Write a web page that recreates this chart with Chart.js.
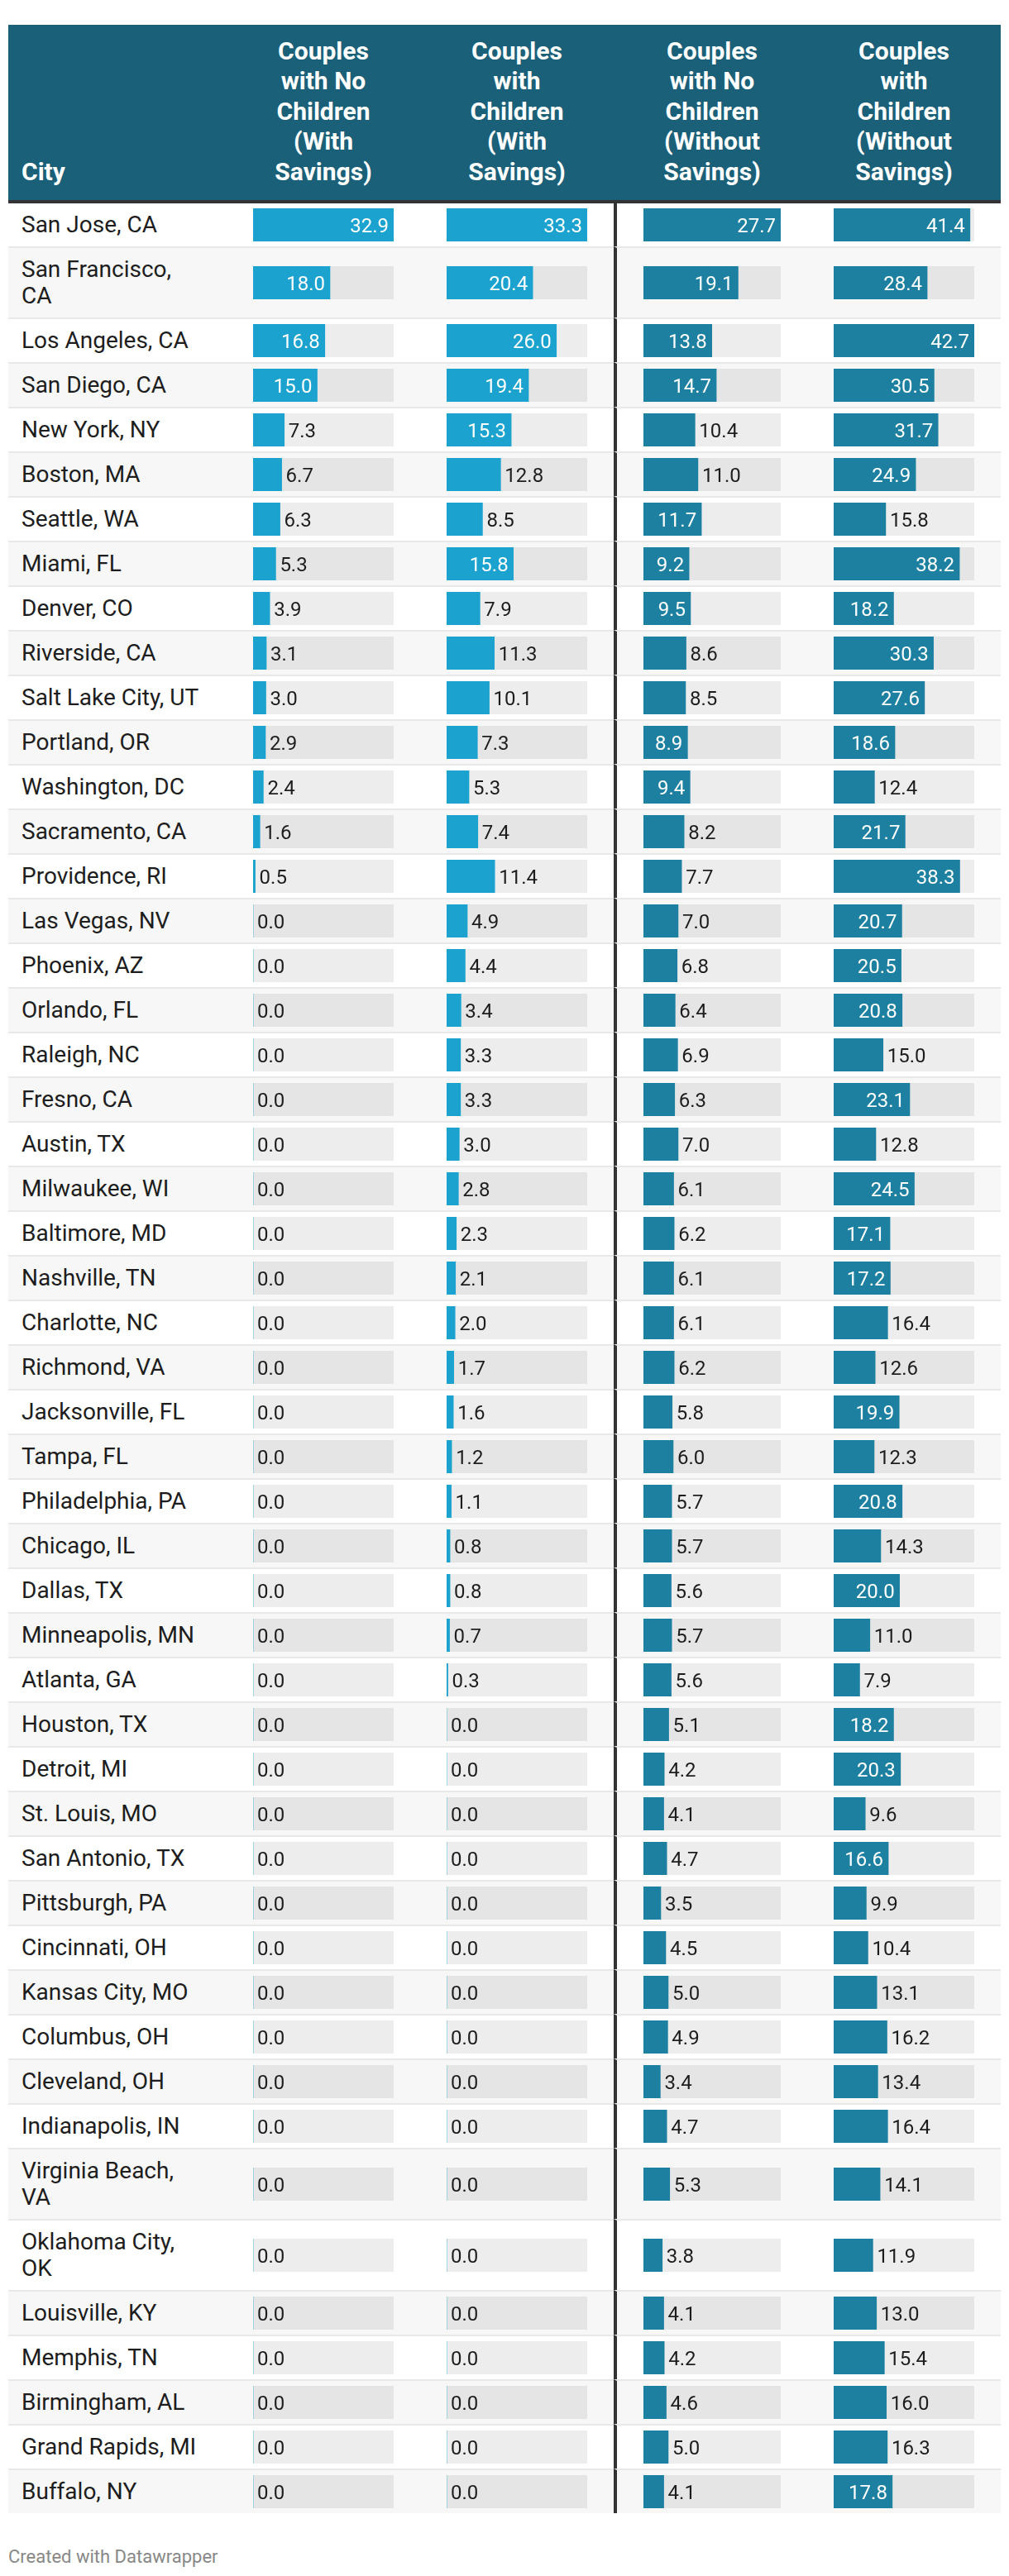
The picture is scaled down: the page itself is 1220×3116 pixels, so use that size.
<!DOCTYPE html>
<html>
<head>
<meta charset="utf-8">
<script src="https://cdn.jsdelivr.net/npm/chart.js@4.4.1/dist/chart.umd.min.js"></script>
<style>
    body { margin: 0; background: #fff; font-family: Roboto, sans-serif; }
    #table { position: absolute; left: 10px; top: 30px; width: 1200px; }
    .head, .row { display: grid; grid-template-columns: 280px 218px 234px 234px 234px; }
    .head { background: #1b6079; border-bottom: 4px solid #333; color: #fff; font-weight: 700;
            font-size: 30px; line-height: 36.5px; height: 212px; }
    .head > div { box-sizing: border-box; display: flex; align-items: flex-end; justify-content: center;
                  text-align: center; white-space: pre-line; padding-bottom: 16px; }
    .head > div.first { justify-content: flex-start; padding-left: 16px; }
    .head > div.c1 { padding-left: 16px; padding-right: 32px; }
    .head > div.c2 { padding-left: 32px; padding-right: 32px; }
    .head > div.c3 { padding-left: 36px; padding-right: 32px; }
    .head > div.c4 { padding-left: 32px; padding-right: 32px; }
    .row > div { box-sizing: border-box; border-top: 2px solid #e8e8e8; display: flex; align-items: center; }
    .row:first-child > div { border-top: 0; }
    .row:nth-child(even) { background: #f7f7f7; }
    .city { padding: 10px 47px 10px 16px; font-size: 28px; line-height: 32px; color: #1d1d1d; }
    .b1 { padding-left: 16px; }
    .b2 { padding-left: 32px; }
    .b3 { padding-left: 32px; border-left: 4px solid #333; }
    .b4 { padding-left: 32px; }
    canvas { display: block; }
    .footer { margin-top: 40px; font-size: 22px; line-height: 26px; color: #888; }
</style>
</head>
<body>
<div id="table">
    <div class="head" id="head"></div>
    <div id="body"></div>
    <div class="footer">Created with Datawrapper</div>
</div>
<script>
const headers = [
    "City",
    "Couples\nwith No\nChildren\n(With\nSavings)",
    "Couples\nwith\nChildren\n(With\nSavings)",
    "Couples\nwith No\nChildren\n(Without\nSavings)",
    "Couples\nwith\nChildren\n(Without\nSavings)"
];

const cities = [
    "San Jose, CA", "San Francisco, CA", "Los Angeles, CA", "San Diego, CA", "New York, NY",
    "Boston, MA", "Seattle, WA", "Miami, FL", "Denver, CO", "Riverside, CA",
    "Salt Lake City, UT", "Portland, OR", "Washington, DC", "Sacramento, CA", "Providence, RI",
    "Las Vegas, NV", "Phoenix, AZ", "Orlando, FL", "Raleigh, NC", "Fresno, CA",
    "Austin, TX", "Milwaukee, WI", "Baltimore, MD", "Nashville, TN", "Charlotte, NC",
    "Richmond, VA", "Jacksonville, FL", "Tampa, FL", "Philadelphia, PA", "Chicago, IL",
    "Dallas, TX", "Minneapolis, MN", "Atlanta, GA", "Houston, TX", "Detroit, MI",
    "St. Louis, MO", "San Antonio, TX", "Pittsburgh, PA", "Cincinnati, OH", "Kansas City, MO",
    "Columbus, OH", "Cleveland, OH", "Indianapolis, IN", "Virginia Beach, VA", "Oklahoma City, OK",
    "Louisville, KY", "Memphis, TN", "Birmingham, AL", "Grand Rapids, MI", "Buffalo, NY"
];

const noKidsSavings = [
    32.9, 18.0, 16.8, 15.0, 7.3, 6.7, 6.3, 5.3, 3.9, 3.1,
    3.0, 2.9, 2.4, 1.6, 0.5, 0.0, 0.0, 0.0, 0.0, 0.0,
    0.0, 0.0, 0.0, 0.0, 0.0, 0.0, 0.0, 0.0, 0.0, 0.0,
    0.0, 0.0, 0.0, 0.0, 0.0, 0.0, 0.0, 0.0, 0.0, 0.0,
    0.0, 0.0, 0.0, 0.0, 0.0, 0.0, 0.0, 0.0, 0.0, 0.0
];

const kidsSavings = [
    33.3, 20.4, 26.0, 19.4, 15.3, 12.8, 8.5, 15.8, 7.9, 11.3,
    10.1, 7.3, 5.3, 7.4, 11.4, 4.9, 4.4, 3.4, 3.3, 3.3,
    3.0, 2.8, 2.3, 2.1, 2.0, 1.7, 1.6, 1.2, 1.1, 0.8,
    0.8, 0.7, 0.3, 0.0, 0.0, 0.0, 0.0, 0.0, 0.0, 0.0,
    0.0, 0.0, 0.0, 0.0, 0.0, 0.0, 0.0, 0.0, 0.0, 0.0
];

const noKidsNoSavings = [
    27.7, 19.1, 13.8, 14.7, 10.4, 11.0, 11.7, 9.2, 9.5, 8.6,
    8.5, 8.9, 9.4, 8.2, 7.7, 7.0, 6.8, 6.4, 6.9, 6.3,
    7.0, 6.1, 6.2, 6.1, 6.1, 6.2, 5.8, 6.0, 5.7, 5.7,
    5.6, 5.7, 5.6, 5.1, 4.2, 4.1, 4.7, 3.5, 4.5, 5.0,
    4.9, 3.4, 4.7, 5.3, 3.8, 4.1, 4.2, 4.6, 5.0, 4.1
];

const kidsNoSavings = [
    41.4, 28.4, 42.7, 30.5, 31.7, 24.9, 15.8, 38.2, 18.2, 30.3,
    27.6, 18.6, 12.4, 21.7, 38.3, 20.7, 20.5, 20.8, 15.0, 23.1,
    12.8, 24.5, 17.1, 17.2, 16.4, 12.6, 19.9, 12.3, 20.8, 14.3,
    20.0, 11.0, 7.9, 18.2, 20.3, 9.6, 16.6, 9.9, 10.4, 13.1,
    16.2, 13.4, 16.4, 14.1, 11.9, 13.0, 15.4, 16.0, 16.3, 17.8
];

// one entry per bar column: values plus how it is drawn
const columns = [
    { values: noKidsSavings, color: '#1ba2cf', width: 170 },
    { values: kidsSavings, color: '#1ba2cf', width: 170 },
    { values: noKidsNoSavings, color: '#1e80a1', width: 166 },
    { values: kidsNoSavings, color: '#1e80a1', width: 170 }
];

// value label: inside the bar (white) when there is room, else just after it
const valueLabels = {
    id: 'valueLabels',
    afterDatasetsDraw: function (chart) {
        var ctx = chart.ctx;
        var bar = chart.getDatasetMeta(1).data[0];
        var text = chart.data.datasets[1].data[0].toFixed(1);
        ctx.save();
        ctx.font = '24px Roboto';
        var w = ctx.measureText(text).width;
        var inside = (bar.x - bar.base) - w > 19.25;
        ctx.fillStyle = inside ? '#ffffff' : '#1d1d1d';
        ctx.textAlign = inside ? 'right' : 'left';
        ctx.fillText(text, inside ? bar.x - 6 : bar.x + 5, bar.y + 8.5);
        ctx.restore();
    }
};

var head = document.getElementById('head');
headers.forEach(function (h, i) {
    var d = document.createElement('div');
    d.className = i === 0 ? 'first' : 'c' + i;
    d.textContent = h;
    head.appendChild(d);
});

var body = document.getElementById('body');
cities.forEach(function (city, r) {
    var row = document.createElement('div');
    row.className = 'row';
    var c = document.createElement('div');
    c.className = 'city';
    c.textContent = city;
    row.appendChild(c);
    var canvases = [];
    columns.forEach(function (col, k) {
        var cell = document.createElement('div');
        cell.className = 'b' + (k + 1);
        var cv = document.createElement('canvas');
        cv.width = col.width;
        cv.height = 40;
        cv.style.width = col.width + 'px';
        cv.style.height = '40px';
        cell.appendChild(cv);
        row.appendChild(cell);
        canvases.push(cv);
    });
    body.appendChild(row);

    columns.forEach(function (col, k) {
        var colMax = Math.max.apply(null, col.values);
        new Chart(canvases[k].getContext('2d'), {
            type: 'bar',
            data: {
                labels: [city],
                datasets: [{
                    data: [colMax],
                    backgroundColor: 'rgba(0,0,0,0.07)',
                    grouped: false,
                    order: 2
                }, {
                    data: [col.values[r]],
                    backgroundColor: col.color,
                    grouped: false,
                    order: 1
                }]
            },
            options: {
                indexAxis: 'y',
                responsive: false,
                animation: false,
                events: [],
                layout: { padding: 0 },
                datasets: { bar: { barPercentage: 1, categoryPercentage: 1 } },
                scales: {
                    x: { display: false, min: 0, max: colMax },
                    y: { display: false }
                },
                plugins: {
                    legend: { display: false },
                    tooltip: { enabled: false }
                }
            },
            plugins: [valueLabels]
        });
    });
});
</script>
</body>
</html>
